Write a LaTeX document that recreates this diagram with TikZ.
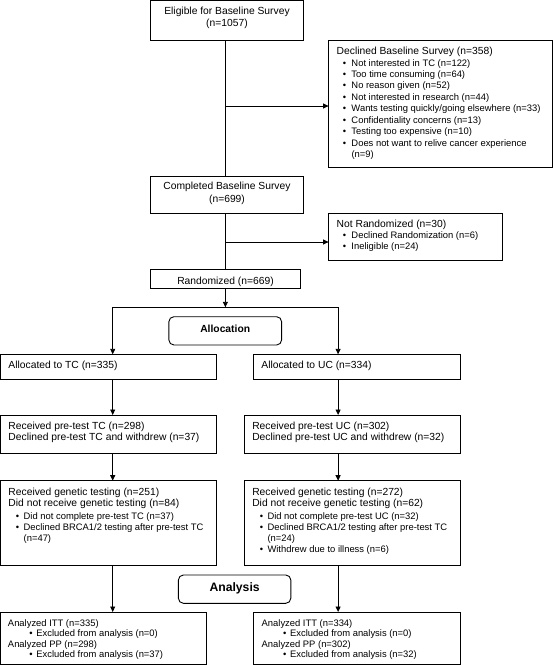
\documentclass[tikz,border=0pt]{standalone}
\usepackage{fontspec}
\setmainfont{Liberation Sans}
\usetikzlibrary{arrows.meta}
\newcommand{\hd}{\fontsize{10.3}{11.6}\selectfont}
\newcommand{\sm}{\fontsize{9.4}{11.45}\selectfont}
\newcommand{\bitem}[3]{\par\hangindent=#2\hangafter=1\noindent\hbox to #2{\hspace*{#1}\textbullet\hss}#3}
\tikzset{
  box/.style={draw, line width=0.9pt, inner sep=0pt, outer sep=0pt, anchor=north west},
  rbox/.style={box, rounded corners=5pt},
  txt/.style={inner sep=0pt, outer sep=0pt, anchor=base west},
  ctxt/.style={inner sep=0pt, outer sep=0pt, anchor=base},
  ln/.style={line width=0.9pt},
  arr/.style={line width=0.9pt, -{Triangle[length=5.5pt,width=5pt]}}
}
\begin{document}
\begin{tikzpicture}[x=1pt,y=-1pt]
\useasboundingbox (0,0) rectangle (554,665);
% boxes
\node[box, minimum width=153pt, minimum height=40.2pt] (elig) at (150.5,0.5) {};
\node[box, minimum width=224.3pt, minimum height=126.3pt] (decl) at (328.6,40.7) {};
\node[box, minimum width=153pt, minimum height=37.3pt] (comp) at (150.5,176) {};
\node[box, minimum width=173.8pt, minimum height=47.4pt] (nrand) at (328.6,213.3) {};
\node[box, minimum width=150.2pt, minimum height=19.4pt] (rand) at (150.5,269.3) {};
\node[rbox, minimum width=112.7pt, minimum height=28.3pt] (alloc) at (168.9,316.7) {};
\node[box, minimum width=215.7pt, minimum height=25.4pt] (tc1) at (0.5,354.3) {};
\node[box, minimum width=206.7pt, minimum height=25.4pt] (uc1) at (253.3,354.3) {};
\node[box, minimum width=215.7pt, minimum height=38.3pt] (tc2) at (0.5,415) {};
\node[box, minimum width=215.9pt, minimum height=38.3pt] (uc2) at (244.1,415) {};
\node[box, minimum width=215.7pt, minimum height=84.6pt] (tc3) at (0.5,480.7) {};
\node[box, minimum width=215.9pt, minimum height=84.6pt] (uc3) at (244.1,480.7) {};
\node[rbox, minimum width=112.4pt, minimum height=28.3pt] (anal) at (178.4,575) {};
\node[box, minimum width=206.2pt, minimum height=52pt] (tc4) at (0.5,612) {};
\node[box, minimum width=206.7pt, minimum height=52pt] (uc4) at (253.3,612) {};
% texts
\node[ctxt] (eligT) at (227,14.3) {\parbox[t]{150pt}{\centering\fontsize{10.3}{12.6}\selectfont Eligible for Baseline Survey\\(n=1057)}};
\node[txt] (declT) at (336.7,54.6) {\parbox[t]{215pt}{\raggedright\hd Declined Baseline Survey (n=358)\sm
\bitem{6.2pt}{14.8pt}{Not interested in TC (n=122)}
\bitem{6.2pt}{14.8pt}{Too time consuming (n=64)}
\bitem{6.2pt}{14.8pt}{No reason given (n=52)}
\bitem{6.2pt}{14.8pt}{Not interested in research (n=44)}
\bitem{6.2pt}{14.8pt}{Wants testing quickly/going elsewhere (n=33)}
\bitem{6.2pt}{14.8pt}{Confidentiality concerns (n=13)}
\bitem{6.2pt}{14.8pt}{Testing too expensive (n=10)}
\bitem{6.2pt}{14.8pt}{Does not want to relive cancer experience\newline(n=9)}\par}};
\node[ctxt] (compT) at (227,189.9) {\parbox[t]{150pt}{\centering\fontsize{10.3}{13}\selectfont Completed Baseline Survey\\(n=699)}};
\node[txt] (nrandT) at (336.7,227.3) {\parbox[t]{165pt}{\raggedright\hd Not Randomized (n=30)\fontsize{9.4}{12}\selectfont
\bitem{6.2pt}{14.8pt}{Declined Randomization (n=6)}\fontsize{9.4}{11.3}\selectfont
\bitem{6.2pt}{14.8pt}{Ineligible (n=24)}\par}};
\node[ctxt] (randT) at (225.5,284.3) {\hd Randomized (n=669)};
\node[ctxt] (allocT) at (225.2,332.3) {\hd\bfseries Allocation};
\node[txt] (tc1T) at (8.5,368.6) {\hd Allocated to TC (n=335)};
\node[txt] (uc1T) at (261.4,368.6) {\hd Allocated to UC (n=334)};
\node[txt] (tc2T) at (8.5,429.6) {\parbox[t]{205pt}{\raggedright\fontsize{10.3}{11.3}\selectfont Received pre-test TC (n=298)\\Declined pre-test TC and withdrew (n=37)}};
\node[txt] (uc2T) at (252.3,429.6) {\parbox[t]{205pt}{\raggedright\fontsize{10.3}{11.3}\selectfont Received pre-test UC (n=302)\\Declined pre-test UC and withdrew (n=32)}};
\node[txt] (tc3T) at (8.5,495.3) {\parbox[t]{205pt}{\raggedright\hd Received genetic testing (n=251)\\Did not receive genetic testing (n=84)\par\vspace{1.4pt}\fontsize{9.4}{11.1}\selectfont
\bitem{7.5pt}{15.2pt}{Did not complete pre-test TC (n=37)}
\bitem{7.5pt}{15.2pt}{Declined BRCA1/2 testing after pre-test TC\newline(n=47)}\par}};
\node[txt] (uc3T) at (252.3,495.3) {\parbox[t]{205pt}{\raggedright\hd Received genetic testing (n=272)\\Did not receive genetic testing (n=62)\par\vspace{1.4pt}\fontsize{9.4}{11.1}\selectfont
\bitem{7.5pt}{15.2pt}{Did not complete pre-test UC (n=32)}
\bitem{7.5pt}{15.2pt}{Declined BRCA1/2 testing after pre-test TC\newline(n=24)}
\bitem{7.5pt}{15.2pt}{Withdrew due to illness (n=6)}\par}};
\node[ctxt] (analT) at (234.6,591.6) {\fontsize{12.2}{14}\selectfont\bfseries Analysis};
\node[txt] (tc4T) at (8,626.6) {\parbox[t]{195pt}{\raggedright\fontsize{9.4}{10.2}\selectfont Analyzed ITT (n=335)
\bitem{21.3pt}{28.4pt}{Excluded from analysis (n=0)}
\par\noindent Analyzed PP (n=298)
\bitem{21.3pt}{28.4pt}{Excluded from analysis (n=37)}\par}};
\node[txt] (uc4T) at (261.7,626.6) {\parbox[t]{195pt}{\raggedright\fontsize{9.4}{10.2}\selectfont Analyzed ITT (n=334)
\bitem{21.3pt}{28.4pt}{Excluded from analysis (n=0)}
\par\noindent Analyzed PP (n=302)
\bitem{21.3pt}{28.4pt}{Excluded from analysis (n=32)}\par}};
% connector coordinates
\coordinate (trunk) at (225.4,0);
\coordinate (j1) at (225.4,106);
\coordinate (j2) at (225.4,242);
\coordinate (bL) at (112.7,307.3);
\coordinate (bR) at (338.1,307.3);
\coordinate (bM) at (225.4,307.3);
% connectors
\draw[ln] (elig.south -| trunk) -- (comp.north -| trunk);
\draw[arr] (j1) -- (j1 -| decl.west);
\draw[ln] (comp.south -| trunk) -- (rand.north -| trunk);
\draw[arr] (j2) -- (j2 -| nrand.west);
\draw[arr] (rand.south -| trunk) -- (bM);
\draw[ln] (bL) -- (bR);
\draw[arr] (bL) -- (tc1.north -| bL);
\draw[arr] (bR) -- (uc1.north -| bR);
\draw[arr] (tc1.south -| bL) -- (tc2.north -| bL);
\draw[arr] (uc1.south -| bR) -- (uc2.north -| bR);
\draw[arr] (tc2.south -| bL) -- (tc3.north -| bL);
\draw[arr] (uc2.south -| bR) -- (uc3.north -| bR);
\draw[arr] (tc3.south -| bL) -- (tc4.north -| bL);
\draw[arr] (uc3.south -| bR) -- (uc4.north -| bR);
\end{tikzpicture}
\end{document}
